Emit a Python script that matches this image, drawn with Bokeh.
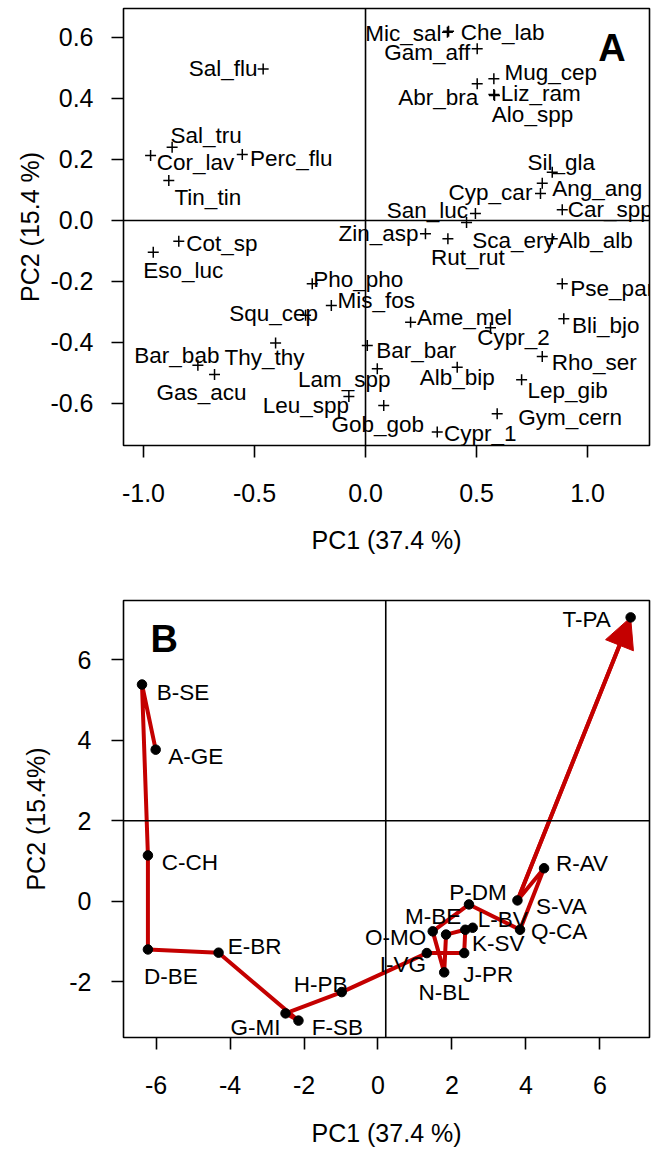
from bokeh.plotting import figure
from bokeh.layouts import column
from bokeh.models import (ColumnDataSource, Range1d, FixedTicker, PrintfTickFormatter,
                          Span, Label, Arrow, NormalHead)
from bokeh.core.properties import value
from bokeh.embed import file_html
from bokeh.resources import INLINE

FONT = "Liberation Sans"
RED = "#C40000"

# ---------------- Panel A : species scores ----------------
species = ["Sal_flu", "Sal_tru", "Cor_lav", "Perc_flu", "Tin_tin",
           "Mic_sal", "Che_lab", "Gam_aff", "Mug_cep", "Abr_bra", "Liz_ram", "Alo_spp",
           "Sil_gla", "Ang_ang", "Cyp_car", "Car_spp",
           "San_luc", "Sca_ery", "Rut_rut", "Alb_alb", "Zin_asp",
           "Pse_par", "Bli_bjo", "Ame_mel", "Cypr_2", "Bar_bar", "Rho_ser", "Alb_bip",
           "Lep_gib", "Gym_cern", "Cypr_1", "Gob_gob", "Lam_spp",
           "Cot_sp", "Eso_luc", "Pho_pho", "Mis_fos", "Squ_cep", "Thy_thy",
           "Bar_bab", "Gas_acu", "Leu_spp"]
pc1_species = [-0.461, -0.871, -0.968, -0.555, -0.886,
               0.369, 0.374, 0.503, 0.578, 0.503, 0.578, 0.581,
               0.841, 0.796, 0.788, 0.886,
               0.495, 0.455, 0.371, 0.841, 0.270,
               0.886, 0.893, 0.203, 0.563, 0.008, 0.796, 0.413,
               0.703, 0.593, 0.323, 0.082, 0.053,
               -0.841, -0.956, -0.240, -0.154, -0.270, -0.405,
               -0.755, -0.680, -0.075]
pc2_species = [0.497, 0.240, 0.213, 0.216, 0.131,
               0.617, 0.620, 0.563, 0.465, 0.448, 0.413, 0.410,
               0.158, 0.122, 0.088, 0.035,
               0.023, -0.007, -0.060, -0.060, -0.044,
               -0.208, -0.322, -0.334, -0.352, -0.410, -0.446, -0.481,
               -0.522, -0.634, -0.694, -0.607, -0.486,
               -0.068, -0.104, -0.208, -0.279, -0.311, -0.402,
               -0.475, -0.505, -0.577]
# label offsets (screen px, centre of label relative to the point)
species_lab_dx = [-40, 34, 45, 49, 39,
                  -44, 54, -50, 57, -39, 47, 38,
                  9, 55, -50, 48,
                  -48, 47, 20, 43, -47,
                  50, 42, 54, 23, 49, 52, 0,
                  46, 73, 43, -6, -33,
                  43, 30, 46, 45, -32, -11,
                  -21, -13, -43]
species_lab_dy = [0, -12, 7, 4, 17,
                  1, 1, 4, -6, 14, -1, 19,
                  -10, 5, -1, 0,
                  -3, 18, 19, 2, 0,
                  5, 7, -5, 10, 5, 6, 10,
                  11, 4, 1, 19, 11,
                  2, 18, -4, -5, -2, 14,
                  -10, 18, 9]

# ---------------- Panel B : site trajectory ----------------
sites = ["A-GE", "B-SE", "C-CH", "D-BE", "E-BR", "F-SB", "G-MI", "H-PB", "I-VG", "J-PR",
         "K-SV", "L-BV", "M-BE", "N-BL", "O-MO", "P-DM", "Q-CA", "R-AV", "S-VA", "T-PA"]
pc1_sites = [-6.01, -6.38, -6.22, -6.22, -4.31, -2.15, -2.50, -0.98, 1.32, 2.33,
             2.36, 2.56, 1.84, 1.79, 1.48, 2.46, 3.84, 4.49, 3.77, 6.83]
pc2_sites = [3.77, 5.39, 1.14, -1.20, -1.28, -2.97, -2.79, -2.26, -1.29, -1.29,
             -0.71, -0.66, -0.83, -1.77, -0.75, -0.08, -0.71, 0.82, 0.02, 7.06]
site_lab_dx = [40, 41, 42, 23, 36, 39, -30, -21, -24, 24,
               33, 30, -13, 0, -37, 9, 39, 38, 44, -44]
site_lab_dy = [7, 8, 7, 27, -6, 7, 14, -8, 11, 21,
               14, -8, -18, 20, 6, -12, 2, -5, 6, 2]

xa_ticks = [-1.0, -0.5, 0.0, 0.5, 1.0]
ya_ticks = [-0.6, -0.4, -0.2, 0.0, 0.2, 0.4, 0.6]
xb_ticks = [-6, -4, -2, 0, 2, 4, 6]
yb_ticks = [-2, 0, 2, 4, 6]
x_title = "PC1 (37.4 %)"
ya_title = "PC2 (15.4 %)"
yb_title = "PC2 (15.4%)"
ref_a = (0.0, 0.0)
ref_b = (0.21, 2.0)


def style(p, xt, yt, fmt, ytick_standoff, ylab_standoff, xlab_standoff):
    p.outline_line_color = "black"
    p.outline_line_width = 1.6
    p.outline_line_alpha = 1.0
    p.xgrid.visible = False
    p.ygrid.visible = False
    p.background_fill_color = "white"
    p.border_fill_color = "white"
    p.xaxis.ticker = FixedTicker(ticks=xt)
    p.yaxis.ticker = FixedTicker(ticks=yt)
    p.xaxis.formatter = PrintfTickFormatter(format=fmt)
    p.yaxis.formatter = PrintfTickFormatter(format=fmt)
    for ax in (p.xaxis[0], p.yaxis[0]):
        ax.axis_line_color = None
        ax.major_tick_out = 12
        ax.major_tick_in = 0
        ax.major_tick_line_width = 1.6
        ax.major_tick_line_color = "black"
        ax.minor_tick_line_color = None
        ax.major_label_text_font = FONT
        ax.major_label_text_font_size = "25px"
        ax.major_label_text_color = "black"
        ax.axis_label_text_font = FONT
        ax.axis_label_text_font_size = "25px"
        ax.axis_label_text_font_style = "normal"
        ax.axis_label_text_color = "black"
    p.xaxis.major_label_standoff = 26
    p.xaxis.axis_label_standoff = xlab_standoff
    p.yaxis.major_label_standoff = ytick_standoff
    p.yaxis.axis_label_standoff = ylab_standoff


# ---------- figure A ----------
pA = figure(width=651, height=570, output_backend="svg", toolbar_location=None,
            x_range=Range1d(-1.090, 1.279), y_range=Range1d(-0.738, 0.695),
            min_border_left=123, min_border_right=2, min_border_top=8, min_border_bottom=125,
            x_axis_label=x_title, y_axis_label=ya_title)
style(pA, xa_ticks, ya_ticks, "%.1f", 18, 3, 21)
pA.add_layout(Span(location=ref_a[0], dimension="height", line_color="black", line_width=1.6))
pA.add_layout(Span(location=ref_a[1], dimension="width", line_color="black", line_width=1.6))

srcA = ColumnDataSource(dict(x=pc1_species, y=pc2_species, name=species,
                             dx=species_lab_dx, dy=species_lab_dy))
pA.scatter("x", "y", source=srcA, marker="cross", size=11, line_color="black", line_width=1.5)
pA.text("x", "y", text="name", source=srcA, x_offset="dx", y_offset="dy",
        text_font=value(FONT), text_font_size="22.5px", text_align="center",
        text_baseline="middle", text_color="black")
pA.add_layout(Label(x=1.11, y=0.567, text="A", text_font=FONT, text_font_size="38px",
                    text_font_style="bold", text_align="center", text_baseline="middle",
                    text_color="black"))

# ---------- figure B ----------
pB = figure(width=651, height=580, output_backend="svg", toolbar_location=None,
            x_range=Range1d(-6.88, 7.34), y_range=Range1d(-3.39, 7.48),
            min_border_left=122, min_border_right=2, min_border_top=30, min_border_bottom=113,
            x_axis_label=x_title, y_axis_label=yb_title)
style(pB, xb_ticks, yb_ticks, "%d", 20, 16, 22)
pB.add_layout(Span(location=ref_b[0], dimension="height", line_color="black", line_width=1.6))
pB.add_layout(Span(location=ref_b[1], dimension="width", line_color="black", line_width=1.6))

srcB = ColumnDataSource(dict(x=pc1_sites, y=pc2_sites, name=sites,
                             dx=site_lab_dx, dy=site_lab_dy))
pB.line("x", "y", source=srcB, line_color=RED, line_width=4, line_join="round")
arrow = Arrow(end=NormalHead(size=30, fill_color=RED, line_color=RED, line_width=1),
              x_start=pc1_sites[-2], y_start=pc2_sites[-2],
              x_end=pc1_sites[-1], y_end=pc2_sites[-1],
              line_color=RED, line_width=4, level="underlay")
pB.add_layout(arrow)
pB.scatter("x", "y", source=srcB, marker="circle", size=9.5, fill_color="black", line_color="black")
pB.text("x", "y", text="name", source=srcB, x_offset="dx", y_offset="dy",
        text_font=value(FONT), text_font_size="22.5px", text_align="center",
        text_baseline="middle", text_color="black")
pB.add_layout(Label(x=-5.78, y=6.51, text="B", text_font=FONT, text_font_size="38px",
                    text_font_style="bold", text_align="center", text_baseline="middle",
                    text_color="black"))

layout = column(pA, pB, spacing=0)
open("out.html", "w").write(file_html(layout, INLINE))
